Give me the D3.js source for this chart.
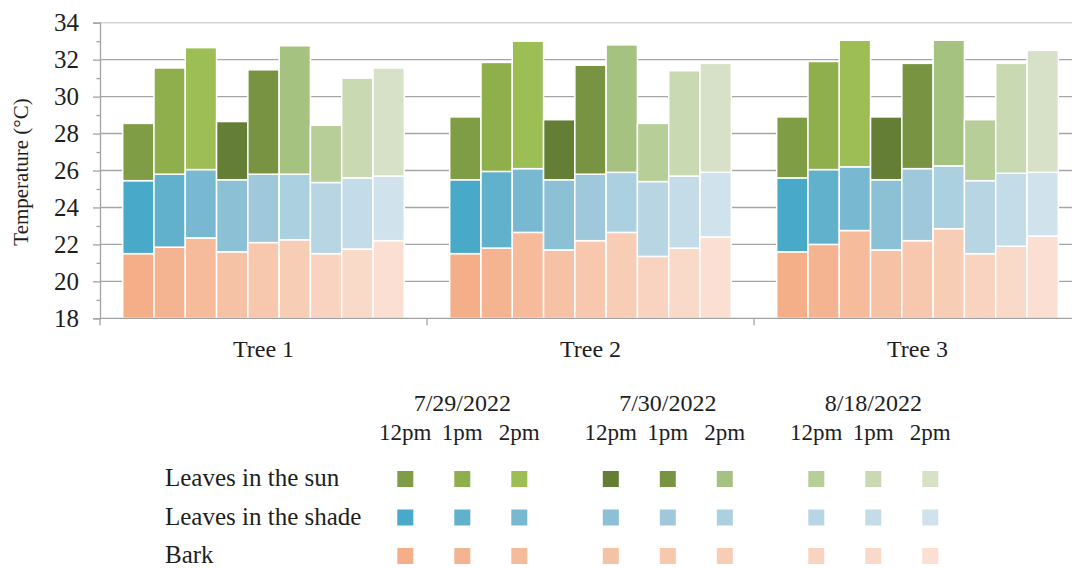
<!DOCTYPE html>
<html>
<head>
<meta charset="utf-8">
<script src="https://cdn.jsdelivr.net/npm/d3@7"></script>
<style>
  html, body { margin: 0; padding: 0; background: #fff; }
  svg { display: block; }
  svg text { font-family: "Liberation Serif", "Times New Roman", serif; }
</style>
</head>
<body>
<svg id="chart"></svg>
<script>
// chart data
const trees = ['Tree 1', 'Tree 2', 'Tree 3'];
const dates = ['7/29/2022', '7/30/2022', '8/18/2022'];
const times = ['12pm', '1pm', '2pm'];
const layers = ['Leaves in the sun', 'Leaves in the shade', 'Bark'];

// one row per tree, 9 readings: 7/29 12,1,2pm | 7/30 12,1,2pm | 8/18 12,1,2pm
const sunTemp = [
  [28.55, 31.55, 32.65, 28.65, 31.45, 32.75, 28.45, 31.0, 31.55],
  [28.9, 31.85, 33.0, 28.75, 31.7, 32.8, 28.55, 31.4, 31.8],
  [28.9, 31.9, 33.05, 28.9, 31.8, 33.05, 28.75, 31.8, 32.5]
];
const shadeTemp = [
  [25.45, 25.8, 26.05, 25.5, 25.8, 25.8, 25.35, 25.6, 25.7],
  [25.5, 25.95, 26.1, 25.5, 25.8, 25.9, 25.4, 25.7, 25.9],
  [25.6, 26.05, 26.2, 25.5, 26.1, 26.25, 25.45, 25.85, 25.9]
];
const barkTemp = [
  [21.5, 21.85, 22.35, 21.6, 22.1, 22.25, 21.5, 21.75, 22.2],
  [21.5, 21.8, 22.65, 21.7, 22.2, 22.65, 21.35, 21.8, 22.4],
  [21.6, 22.0, 22.75, 21.7, 22.2, 22.85, 21.5, 21.9, 22.45]
];

const yTicks = [18, 20, 22, 24, 26, 28, 30, 32, 34];
const yMinorTicks = [19, 21, 23, 25, 27, 29, 31, 33];

const sunColors = ['#7f9d45', '#8fae4c', '#9dbd55', '#647e35', '#789443', '#a6c280', '#b8ce99', '#c9d9b1', '#d7e1c7'];
const shadeColors = ['#48a9c8', '#62b1cc', '#78b9d1', '#8cc0d4', '#9fc9da', '#abd0df', '#b7d5e2', '#c4dce7', '#d0e3ec'];
const barkColors = ['#f4ae88', '#f5b491', '#f5bb9b', '#f6c2a5', '#f7c8ae', '#f8cdb6', '#f9d3bf', '#f9d9c8', '#fadfd2'];

(function(){
  const width = 1072, height = 568;
  const textColor = '#1e1e1e', axisColor = '#a3a3a3';
  const serif = '"Liberation Serif", "Times New Roman", serif';

  const svg = d3.select('svg#chart')
      .attr('width', width)
      .attr('height', height);

  const y = d3.scaleLinear().domain([18, 34]).range([318.3, 22.7]);

  const x = d3.scaleBand().domain(trees).range([100, 1081]);

  let slots = [];
  dates.forEach(d => times.forEach(t => slots.push(d + ' ' + t)));

  const xInner = d3.scaleBand().domain(slots).range([22.7, x.bandwidth() - 22.7]);

  // gridlines
  svg.append('g')
      .attr('class', 'grid')
    .selectAll('line')
    .data(yTicks.filter(v => v > 18))
    .enter().append('line')
      .attr('x1', 100)
      .attr('x2', width)
      .attr('y1', d => y(d))
      .attr('y2', d => y(d))
      .attr('stroke', d => d === 34 ? '#d6d6d6' : '#a6a6a6')
      .attr('stroke-width', 1.4);

  // bars: bark from the axis, shade on bark, sun on shade
  const barGroups = svg.append('g')
      .attr('class', 'bars')
    .selectAll('g')
    .data(trees)
    .enter().append('g')
      .attr('transform', d => `translate(${x(d)},0)`);

  barGroups.each(function(tree, ti){
    let g = d3.select(this);
    let rows = slots.map((s, i) => ({
      slot: s, i: i,
      bark: barkTemp[ti][i], shade: shadeTemp[ti][i], sun: sunTemp[ti][i]
    }));

    let cell = g.selectAll('g')
      .data(rows)
      .enter().append('g');

    cell.append('rect')
        .attr('x', d => xInner(d.slot))
        .attr('width', xInner.bandwidth())
        .attr('y', d => y(d.bark))
        .attr('height', d => y(18) - y(d.bark))
        .attr('fill', d => barkColors[d.i]);

    cell.append('rect')
        .attr('x', d => xInner(d.slot))
        .attr('width', xInner.bandwidth())
        .attr('y', d => y(d.shade))
        .attr('height', d => y(d.bark) - y(d.shade))
        .attr('fill', d => shadeColors[d.i]);

    cell.append('rect')
        .attr('x', d => xInner(d.slot))
        .attr('width', xInner.bandwidth())
        .attr('y', d => y(d.sun))
        .attr('height', d => y(d.shade) - y(d.sun))
        .attr('fill', d => sunColors[d.i]);

    cell.selectAll('rect')
        .attr('stroke', '#ffffff')
        .attr('stroke-width', 1.5);
  });

  // y axis
  let yAxis = svg.append('g')
      .attr('transform', 'translate(100,0)')
      .call(d3.axisLeft(y).tickValues(yTicks).tickSize(7).tickPadding(14).tickFormat(d3.format('d')));

  svg.append('g')
      .attr('transform', 'translate(100,0)')
      .call(d3.axisLeft(y).tickValues(yMinorTicks).tickSize(3.5).tickFormat(''))
      .select('.domain').remove();

  svg.selectAll('.tick line').attr('stroke', axisColor).attr('stroke-width', 1.3);
  yAxis.select('.domain').attr('stroke', axisColor).attr('stroke-width', 1.3);
  yAxis.selectAll('.tick text')
      .style('font-family', serif)
      .style('font-size', '25px')
      .attr('fill', textColor);

  // x axis
  svg.append('line')
      .attr('x1', 100).attr('x2', width)
      .attr('y1', y(18)).attr('y2', y(18))
      .attr('stroke', axisColor)
      .attr('stroke-width', 1.3);

  svg.append('g')
    .selectAll('line')
    .data(trees)
    .enter().append('line')
      .attr('x1', d => x(d)).attr('x2', d => x(d))
      .attr('y1', y(18)).attr('y2', y(18) + 7)
      .attr('stroke', axisColor)
      .attr('stroke-width', 1.3);

  svg.append('g')
    .selectAll('text')
    .data(trees)
    .enter().append('text')
      .attr('x', d => x(d) + x.bandwidth() / 2)
      .attr('y', 357)
      .attr('text-anchor', 'middle')
      .style('font-size', '24px')
      .attr('fill', textColor)
      .text(d => d);

  svg.append('text')
      .attr('transform', 'translate(28,172) rotate(-90)')
      .attr('text-anchor', 'middle')
      .style('font-size', '21px')
      .attr('fill', textColor)
      .text('Temperature (°C)');

  // legend grid
  const legendDate = d3.scalePoint().domain(dates).range([462.3, 873.3]);
  const legendTime = d3.scalePoint().domain(times).range([-57, 57]);
  const legendRow = d3.scalePoint().domain(layers).range([479, 556]);
  const layerColors = [sunColors, shadeColors, barkColors];

  let legend = svg.append('g').attr('class', 'legend');

  legend.selectAll('text.date')
    .data(dates)
    .enter().append('text')
      .attr('class', 'date')
      .attr('x', d => legendDate(d))
      .attr('y', 411)
      .attr('text-anchor', 'middle')
      .style('font-size', '24px')
      .attr('fill', textColor)
      .text(d => d);

  dates.forEach(date => {
    legend.selectAll(null)
      .data(times)
      .enter().append('text')
        .attr('x', t => legendDate(date) + legendTime(t))
        .attr('y', 440)
        .attr('text-anchor', 'middle')
        .style('font-size', '23px')
        .attr('fill', textColor)
        .text(t => t);
  });

  legend.selectAll('text.layer')
    .data(layers)
    .enter().append('text')
      .attr('class', 'layer')
      .attr('x', 165)
      .attr('y', d => legendRow(d) + 7)
      .style('font-size', '25px')
      .attr('fill', textColor)
      .text(d => d);

  layers.forEach((layer, li) => {
    legend.selectAll(null)
      .data(slots)
      .enter().append('rect')
        .attr('x', (s, i) => legendDate(dates[Math.floor(i / 3)]) + legendTime(times[i % 3]) - 8)
        .attr('y', legendRow(layer) - 8)
        .attr('width', 16)
        .attr('height', 16)
        .attr('fill', (s, i) => layerColors[li][i]);
  });
})();
</script>
</body>
</html>
